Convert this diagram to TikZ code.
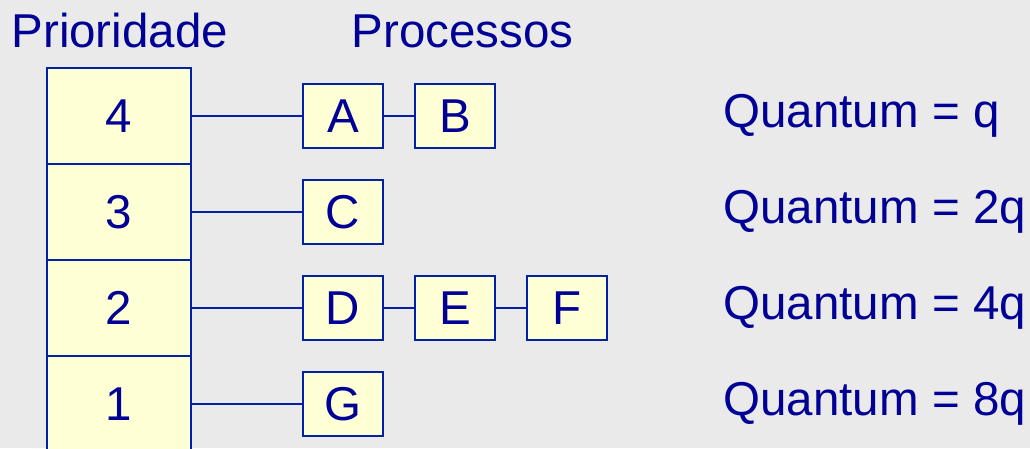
\documentclass[tikz,border=0pt]{standalone}
\usepackage{fontspec}
\setmainfont{Liberation Sans}
\usetikzlibrary{positioning}
\definecolor{navy}{RGB}{0,0,150}
\definecolor{lineblue}{RGB}{0,32,170}
\definecolor{paleyellow}{RGB}{255,255,214}
\definecolor{slidegray}{RGB}{234,234,234}

\begin{document}
\begin{tikzpicture}[x=1pt,y=-1pt,
  every node/.style={font=\fontsize{47.5}{50}\selectfont,text=navy},
  cell/.style={draw=lineblue,line width=2pt,fill=paleyellow,minimum width=144pt,minimum height=96pt,inner sep=0pt},
  proc/.style={draw=lineblue,line width=2pt,fill=paleyellow,minimum width=80pt,minimum height=64pt,inner sep=0pt},
  link/.style={lineblue,line width=2pt}]
 \useasboundingbox (0,0) rectangle (1030,448);
 \fill[slidegray] (0,0) rectangle (1030,448);
 \clip (0,0) rectangle (1030,448);
 % headings
 \node[anchor=base west] (prio) at (8,47) {Prioridade};
 \node[anchor=base west] (procs) at (348,47) {Processos};
 % priority column
 \foreach \p/\y in {4/116,3/212,2/308,1/404}
  \node[cell] (p\p) at (118.7,\y) {\p};
 % process queues
 \node[proc] (A) at (343,116) {A};
 \node[proc,right=30pt of A] (B) {B};
 \node[proc] (C) at (343,212) {C};
 \node[proc] (D) at (343,308) {D};
 \node[proc,right=30pt of D] (E) {E};
 \node[proc,right=30pt of E] (F) {F};
 \node[proc] (G) at (343,404) {G};
 \draw[link] (p4.east) -- (A.west) (A.east) -- (B.west);
 \draw[link] (p3.east) -- (C.west);
 \draw[link] (p2.east) -- (D.west) (D.east) -- (E.west) (E.east) -- (F.west);
 \draw[link] (p1.east) -- (G.west);
 % quantum per level
 \foreach \q/\y/\t in {4/127/q,3/223/2q,2/319/4q,1/415/8q}
  \node[anchor=base west] (q\q) at (720,\y) {Quantum = \t};
\end{tikzpicture}
\end{document}
